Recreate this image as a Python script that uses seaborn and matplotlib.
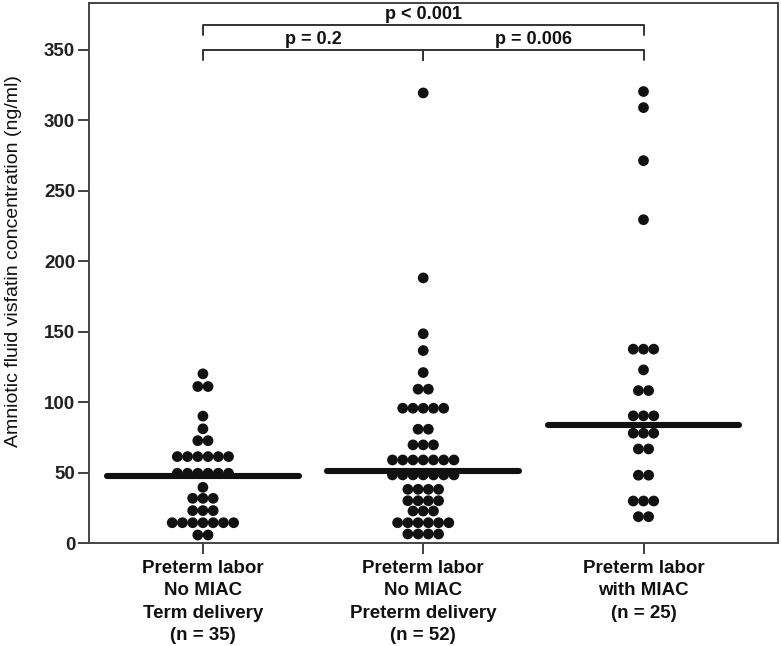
import numpy as np
import pandas as pd
import matplotlib
matplotlib.use("Agg")
import matplotlib.pyplot as plt
import seaborn as sns

# ---- data ----
categories = ["Preterm labor\nNo MIAC\nTerm delivery\n(n = 35)",
              "Preterm labor\nNo MIAC\nPreterm delivery\n(n = 52)",
              "Preterm labor\nwith MIAC\n(n = 25)"]

term_no_miac = ([120] + [111] * 2 + [90] + [81] + [72.6] * 2 + [61.3] * 6 + [49.5] * 6
                + [39.5] + [31.7] * 3 + [23] * 3 + [14.4] * 7 + [5.7] * 2)
preterm_no_miac = ([319.2, 188, 148.4, 136.5, 120.9] + [109.1] * 2 + [95.6] * 5 + [80.7] * 2
                   + [69.6] * 3 + [58.9] * 7 + [48.3] * 7 + [38.1] * 4 + [30] * 4
                   + [22.7] * 3 + [14.4] * 6 + [6.4] * 4)
with_miac = ([320.2, 308.8, 271.2, 229.3] + [137.5] * 3 + [122.8] + [108.1] * 2 + [90.2] * 3
             + [77.9] * 3 + [66.7] * 2 + [48.1] * 2 + [29.8] * 3 + [18.7] * 2)
medians = [47.3, 51.3, 83.8]

comparisons = [(0, 2, "p < 0.001"), (0, 1, "p = 0.2"), (1, 2, "p = 0.006")]
bracket_levels = [367.5, 349.5, 349.5]

yticks = [0, 50, 100, 150, 200, 250, 300, 350]

# ---- layout helpers ----
groups = [term_no_miac, preterm_no_miac, with_miac]
STEP = 0.0465  # horizontal spacing between dots of equal value (category units)


def dot_offsets(vals, step):
    vals = np.asarray(vals, dtype=float)
    offs = np.zeros(len(vals))
    for v in np.unique(vals):
        idx = np.where(vals == v)[0]
        k = len(idx)
        offs[idx] = (np.arange(k) - (k - 1) / 2) * step
    return offs


rows = []
for gi, vals in enumerate(groups):
    offs = dot_offsets(vals, STEP)
    for v, o in zip(vals, offs):
        rows.append({"group": gi, "x": gi + o, "value": v})
df = pd.DataFrame(rows)

sns.set_theme(style="white")
plt.rcParams["font.family"] = ["Liberation Sans", "DejaVu Sans"]

fig = plt.figure(figsize=(7.81, 6.46), dpi=100)
ax = fig.add_axes([0.114, 0.1594, 0.882, 0.836])

sns.scatterplot(data=df, x="x", y="value", ax=ax, color="#111111", s=60,
                edgecolor="none", linewidth=0, legend=False, zorder=3)

for gi, m in enumerate(medians):
    ax.plot([gi - 0.435, gi + 0.435], [m, m], color="#111111", lw=4.4,
            solid_capstyle="round", zorder=4)

# significance brackets
drop = 7
for (a, b, label), lvl in zip(comparisons, bracket_levels):
    ax.plot([a, a, b, b], [lvl - drop, lvl, lvl, lvl - drop], color="#333333", lw=1.4,
            zorder=2, clip_on=False)
    ax.text((a + b) / 2, lvl + 1.5, label, ha="center", va="bottom", fontsize=13,
            fontweight="bold", color="#111111")
ax.plot([1, 1], [349.5 - drop, 349.5], color="#333333", lw=1.4, zorder=2)

ax.set_xlim(-0.517, 2.61)
ax.set_ylim(0, 383)
ax.set_yticks(yticks)
ax.set_yticklabels([str(t) for t in yticks], fontsize=13.5, fontweight="bold", color="#222222")
ax.set_xticks(range(3))
ax.set_xticklabels(categories, fontsize=13.5, fontweight="bold", color="#111111",
                   linespacing=1.42)
ax.set_xlabel("")
ax.set_ylabel("Amniotic fluid visfatin concentration (ng/ml)", fontsize=14, color="#111111")
ax.yaxis.set_label_coords(-0.097, 0.522)

ax.tick_params(axis="both", which="both", direction="out", length=8, width=1.3,
               color="#333333", bottom=True, left=True)
ax.tick_params(axis="x", length=8, pad=4)
ax.tick_params(axis="y", pad=2)
for s in ax.spines.values():
    s.set_visible(True)
    s.set_color("#444444")
    s.set_linewidth(1.4)

fig.savefig("out.png", dpi=100, facecolor="white")
